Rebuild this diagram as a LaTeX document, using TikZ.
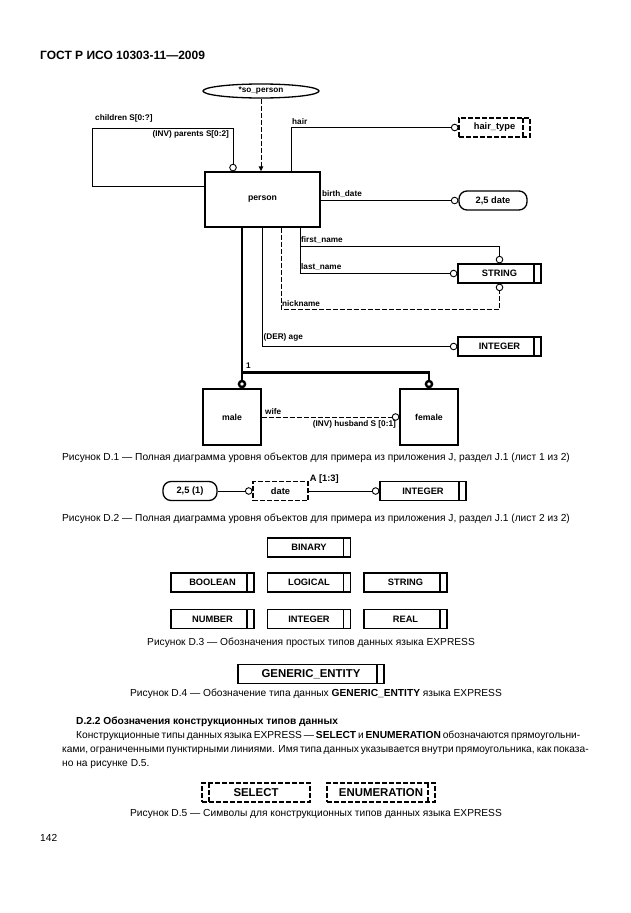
\documentclass[tikz,border=0pt]{standalone}
\usepackage{fontspec}
\setmainfont{Liberation Sans}
\usetikzlibrary{arrows.meta,shapes.geometric,positioning}

\tikzset{
  lbl/.style={font=\bfseries\fontsize{8.2}{9}\selectfont, inner sep=1pt},
  capt/.style={font=\fontsize{10.2}{12}\selectfont, inner sep=0pt},
  link/.style={line width=0.9pt},
  dline/.style={dash pattern=on 5pt off 2pt},
  ring/.style={-{Circle[open,length=7.5pt,width=7.5pt]}},
  fatring/.style={-{Circle[open,length=8.5pt,width=8.5pt]}},
  supline/.style={line width=2.4pt},
  ent/.style={draw, line width=1.4pt, minimum width=115pt, minimum height=55pt,
    font=\bfseries\fontsize{8.7}{9}\selectfont},
  simple/.style={draw, line width=1.3pt, minimum width=83pt, minimum height=19pt,
    font=\bfseries\fontsize{9.3}{10}\selectfont, bar right},
  deftype/.style={draw, line width=1.1pt, dline, minimum height=19pt,
    font=\bfseries\fontsize{9.3}{10}\selectfont},
  pill/.style={draw, line width=1.3pt, rounded corners=8pt, minimum height=19pt,
    font=\bfseries\fontsize{9.3}{10}\selectfont},
  bar right/.style={path picture={\draw[line width=1.3pt]
    ([xshift=-7pt]path picture bounding box.north east) --
    ([xshift=-7pt]path picture bounding box.south east);}},
  dbar right/.style={path picture={\draw[line width=1.1pt, dline]
    ([xshift=-7pt]path picture bounding box.north east) --
    ([xshift=-7pt]path picture bounding box.south east);}},
  dbar left/.style={path picture={\draw[line width=1.1pt, dline]
    ([xshift=7pt]path picture bounding box.north west) --
    ([xshift=7pt]path picture bounding box.south west);}}
}

\begin{document}
\begin{tikzpicture}[x=1pt,y=-1pt]
  \useasboundingbox (0,0) rectangle (630,913);

  \node[anchor=west, inner sep=0pt, font=\bfseries\fontsize{12}{14}\selectfont] (head) at (40,55) {ГОСТ Р ИСО 10303-11—2009};

  % figure D.1
  \node[ent] (person) at (262.5,199.5) {person};
  \node[lbl, draw, ellipse, line width=1.3pt, minimum width=116pt, minimum height=14pt, inner sep=0pt] (sop) at (261,91) {*so\_person};
  \node[deftype, minimum width=71pt, dbar right] (hairtype) at (494.5,127.5) {hair\_type};
  \node[pill, minimum width=68pt] (bdate) at (493,200.5) {2,5 date};
  \node[simple] (string) at (499.5,273.5) {STRING};
  \node[simple] (integer) at (499.5,346.5) {INTEGER};
  \node[ent, minimum width=58pt, minimum height=56pt] (male) at (232,417) {male};
  \node[ent, minimum width=58pt, minimum height=56pt] (female) at (429,417) {female};

  \draw[link, dline, -{Triangle[length=5pt,width=4.5pt]}] (sop) -- (sop |- person.north);

  \draw[link, ring] (person.west |- 0,186) -- (92,186) -- (92,128) -- (233,128) -- (233,0 |- person.north);
  \node[lbl, anchor=south west] at (94,123) {children S[0:?]};
  \node[lbl, anchor=north east] at (230,129) {(INV) parents S[0:2]};

  \draw[link, ring] (291,0 |- person.north) -- (291,0 |- hairtype.west) -- (hairtype.west);
  \node[lbl, anchor=south west] at (291,126) {hair};

  \draw[link, ring] (person.east |- bdate.west) -- (bdate.west);
  \node[lbl, anchor=south west] at (321,198.5) {birth\_date};

  \draw[link, ring] (300,0 |- person.south) -- (300,0 |- string.west) -- (string.west);
  \draw[link, ring] (300,246) -- (string.north |- 0,246) -- (string.north);
  \node[lbl, anchor=south west] at (300,244.5) {first\_name};
  \node[lbl, anchor=south west] at (300,272) {last\_name};

  \draw[link, dline, ring] (281,0 |- person.south) -- (281,309) -- (string.south |- 0,309) -- (string.south);
  \node[lbl, anchor=south west] at (281,307.5) {nickname};

  \draw[link, ring] (person.south) -- (person.south |- integer.west) -- (integer.west);
  \node[lbl, anchor=south west] at (262.5,342) {(DER) age};

  \draw[supline, fatring] (242,0 |- person.south) -- (242,0 |- male.north);
  \draw[supline, fatring] (242,372.5) -- (female.north |- 0,372.5) -- (female.north);
  \node[lbl, anchor=south west] at (245,370) {1};

  \draw[link, dline, ring] (male.east) -- (female.west);
  \node[lbl, anchor=south west] at (264,415.5) {wife};
  \node[lbl, anchor=north east] at (397,419) {(INV) husband S [0:1]};

  \node[capt] (capA) at (316,458) {Рисунок D.1 — Полная диаграмма уровня объектов для примера из приложения J, раздел J.1 (лист 1 из 2)};

  % figure D.2
  \node[pill, minimum width=54pt] (pill25) at (190,491) {2,5 (1)};
  \node[deftype, minimum width=55pt] (date) at (280.5,491) {date};
  \node[simple, minimum width=86pt] (int2) at (423,491) {INTEGER};
  \draw[link, ring] (pill25) -- (date);
  \draw[link, ring] (date) -- (int2);
  \node[lbl, font=\bfseries\fontsize{9.3}{10}\selectfont, anchor=south west] at ([yshift=6pt]date.east) {A [1:3]};

  \node[capt] (capB) at (316,519) {Рисунок D.2 — Полная диаграмма уровня объектов для примера из приложения J, раздел J.1 (лист 2 из 2)};

  % figure D.3
  \node[simple] (binary) at (309,547.5) {BINARY};
  \node[simple] (boolean) at (212.5,582.5) {BOOLEAN};
  \node[simple] (logical) at (309,582.5) {LOGICAL};
  \node[simple] (string3) at (405.5,582.5) {STRING};
  \node[simple] (number) at (212.5,619) {NUMBER};
  \node[simple] (integer3) at (309,619) {INTEGER};
  \node[simple] (real) at (405.5,619) {REAL};

  \node[capt] (capC) at (311,643) {Рисунок D.3 — Обозначения простых типов данных языка EXPRESS};

  % figure D.4
  \node[simple, minimum width=146pt, font=\bfseries\fontsize{11.4}{12}\selectfont] (generic) at (311,674) {GENERIC\_ENTITY};

  \node[capt] (capD) at (316,694) {Рисунок D.4 — Обозначение типа данных \textbf{GENERIC\_ENTITY} языка EXPRESS};

  % text
  \node[anchor=west, inner sep=0pt, font=\bfseries\fontsize{10.2}{12}\selectfont] (sect) at (76,722) {D.2.2 Обозначения конструкционных типов данных};
  \node[capt, anchor=west] (para1) at (76,736) {\makebox[494pt][s]{Конструкционные типы данных языка EXPRESS — \textbf{SELECT} и \textbf{ENUMERATION} обозначаются прямоугольни-}};
  \node[capt, anchor=west] (para2) at (62,750) {\makebox[508pt][s]{ками, ограниченными пунктирными линиями. Имя типа данных указывается внутри прямоугольника, как показа-}};
  \node[capt, anchor=west] (para3) at (62,764) {но на рисунке D.5.};

  % figure D.5
  \node[deftype, minimum width=108pt, dbar left, font=\bfseries\fontsize{11.4}{12}\selectfont] (select) at (256,792.5) {SELECT};
  \node[deftype, minimum width=108pt, dbar right, font=\bfseries\fontsize{11.4}{12}\selectfont] (enum) at (381,792.5) {ENUMERATION};

  \node[capt] (capE) at (316,814) {Рисунок D.5 — Символы для конструкционных типов данных языка EXPRESS};

  \node[capt, anchor=west] (page) at (40,838) {142};
\end{tikzpicture}
\end{document}
